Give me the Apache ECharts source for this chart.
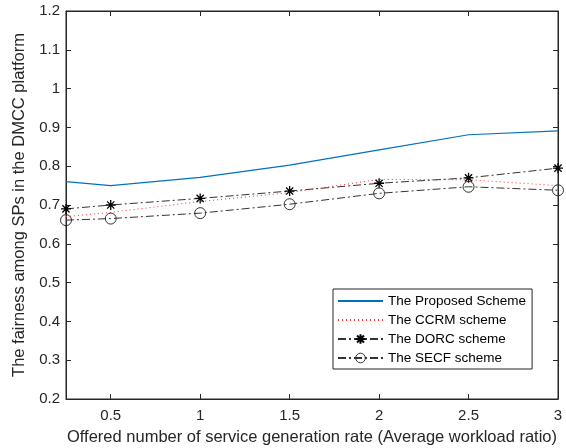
<!DOCTYPE html>
<html><head><meta charset="utf-8">
<script src="https://cdn.jsdelivr.net/npm/echarts@6/dist/echarts.min.js"></script>
<style>html,body{margin:0;padding:0;background:#fff}#c{width:566px;height:448px}</style>
</head><body><div id="c"></div>
<script>
const xValues = [0.25, 0.5, 1, 1.5, 2, 2.5, 3];
const proposed = [0.760, 0.750, 0.771, 0.803, 0.842, 0.881, 0.891];
const ccrm = [0.670, 0.681, 0.709, 0.732, 0.766, 0.765, 0.750];
const dorc = [0.690, 0.700, 0.717, 0.736, 0.756, 0.770, 0.795];
const secf = [0.661, 0.665, 0.679, 0.702, 0.730, 0.747, 0.738];
const xTicks = [0.5, 1, 1.5, 2, 2.5, 3];
const seriesNames = ['The Proposed Scheme', 'The CCRM scheme', 'The DORC scheme', 'The SECF scheme'];

const pair = a => xValues.map((x, i) => [x, a[i]]);
const font = 'Liberation Sans, Arial, sans-serif';
const starPath = 'path://M0,-5L0,5M-5,0L5,0M-3.6,-3.6L3.6,3.6M-3.6,3.6L3.6,-3.6';
const dashDot = [8, 3, 2, 3];
const axisColor = '#262626';
const hiddenIcon = {color: 'rgba(0,0,0,0)', borderWidth: 0, borderColor: 'rgba(0,0,0,0)'};

const chart = echarts.init(document.getElementById('c'));
chart.setOption({
  animation: false,
  backgroundColor: '#fff',
  grid: {left: 66, right: 8, top: 11, bottom: 49, show: true, borderColor: axisColor, borderWidth: 1,
    outerBoundsMode: 'none', containLabel: false},
  xAxis: [{
    type: 'value', min: 0.25, max: 3,
    name: 'Offered number of service generation rate (Average workload ratio)',
    nameLocation: 'middle', nameGap: 30,
    nameTextStyle: {fontFamily: font, fontSize: 16.5, color: axisColor},
    axisLine: {show: true, lineStyle: {color: axisColor}},
    axisTick: {show: true, inside: true, length: 5, customValues: xTicks, lineStyle: {color: axisColor}},
    axisLabel: {customValues: xTicks, fontFamily: font, fontSize: 15, color: axisColor, margin: 9,
      formatter: v => String(+v.toFixed(2))},
    splitLine: {show: false}
  }, {
    type: 'value', min: 0.25, max: 3, position: 'top',
    axisLine: {show: true, lineStyle: {color: axisColor}},
    axisTick: {show: true, inside: true, length: 5, customValues: xTicks, lineStyle: {color: axisColor}},
    axisLabel: {show: false}, splitLine: {show: false}
  }],
  yAxis: [{
    type: 'value', min: 0.2, max: 1.2, interval: 0.1,
    name: 'The fairness among SPs in the DMCC platform',
    nameLocation: 'middle', nameGap: 33,
    nameTextStyle: {fontFamily: font, fontSize: 16.5, color: axisColor},
    axisLine: {show: true, lineStyle: {color: axisColor}},
    axisTick: {show: true, inside: true, length: 5, lineStyle: {color: axisColor}},
    axisLabel: {fontFamily: font, fontSize: 15, color: axisColor, margin: 6,
      formatter: v => String(+v.toFixed(1))},
    splitLine: {show: false}
  }, {
    type: 'value', min: 0.2, max: 1.2, interval: 0.1, position: 'right',
    axisLine: {show: true, lineStyle: {color: axisColor}},
    axisTick: {show: true, inside: true, length: 5, lineStyle: {color: axisColor}},
    axisLabel: {show: false}, splitLine: {show: false}
  }],
  legend: {
    left: 333, top: 289, orient: 'vertical',
    backgroundColor: '#fff', borderColor: axisColor, borderWidth: 1,
    padding: [5, 6, 4, 4], itemGap: 5, itemWidth: 45, itemHeight: 12,
    textStyle: {fontFamily: font, fontSize: 13.5, lineHeight: 14, color: '#000'},
    data: [
      {name: seriesNames[0], itemStyle: hiddenIcon},
      {name: seriesNames[1], itemStyle: hiddenIcon},
      {name: seriesNames[2]},
      {name: seriesNames[3], itemStyle: {color: 'rgba(0,0,0,0)', borderColor: '#333', borderWidth: 1}}
    ]
  },
  series: [{
    name: seriesNames[0], type: 'line', data: pair(proposed), symbol: 'none',
    lineStyle: {color: '#0072BD', width: 1.2}, itemStyle: {color: '#0072BD'}
  }, {
    name: seriesNames[1], type: 'line', data: pair(ccrm), symbol: 'none',
    lineStyle: {color: '#FF3030', width: 1, type: [1, 3]}, itemStyle: {color: '#FF3030'}
  }, {
    name: seriesNames[2], type: 'line', data: pair(dorc), symbol: starPath, symbolSize: 10,
    lineStyle: {color: '#333', width: 1, type: dashDot},
    itemStyle: {color: '#000', borderColor: '#000', borderWidth: 1.3}
  }, {
    name: seriesNames[3], type: 'line', data: pair(secf), symbol: 'circle', symbolSize: 11,
    lineStyle: {color: '#333', width: 1, type: dashDot},
    itemStyle: {color: 'rgba(0,0,0,0)', borderColor: '#333', borderWidth: 1}
  }]
});
</script></body></html>
